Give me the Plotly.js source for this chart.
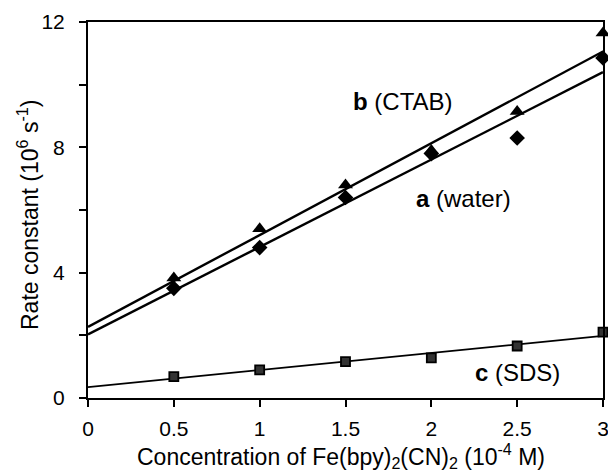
<!DOCTYPE html>
<html>
<head>
<meta charset="utf-8">
<script src="https://cdn.plot.ly/plotly-3.0.1.min.js"></script>
<style>html,body{margin:0;padding:0;background:#fff;}#chart{width:608px;height:470px;}</style>
</head>
<body>
<div id="chart"></div>
<script>
// Data
const conc = [0.5, 1.0, 1.5, 2.0, 2.5, 3.0];
const water = [3.5, 4.8, 6.4, 7.8, 8.3, 10.85];   // a (diamonds)
const ctab  = [3.83, 5.4, 6.8, 7.9, 9.14, 11.65]; // b (triangles)
const sds   = [0.68, 0.9, 1.16, 1.28, 1.66, 2.1]; // c (squares)

// Fitted straight lines (endpoints)
const fitX = [0, 3];
const fitWater = [2.03, 10.4];
const fitCtab = [2.27, 11.06];
const fitSds = [0.35, 1.98];

const xTicks = [0, 0.5, 1, 1.5, 2, 2.5, 3];
const xTickText = ['0', '0.5', '1', '1.5', '2', '2.5', '3'];
const yTicks = [0, 2, 4, 6, 8, 10, 12];
const yTickText = ['0', '', '4', '', '8', '', '12'];

const xTitle = 'Concentration of Fe(bpy)<sub>2</sub>(CN)<sub>2</sub> (10<sup>-4</sup> M)';
const yTitle = 'Rate constant (10<sup>6</sup> s<sup>-1</sup>)';

const font = 'Liberation Sans, Arial, sans-serif';

const traces = [
  {x: fitX, y: fitCtab, mode: 'lines', line: {color: '#000', width: 2.4}, hoverinfo: 'skip'},
  {x: fitX, y: fitWater, mode: 'lines', line: {color: '#000', width: 2.4}, hoverinfo: 'skip'},
  {x: fitX, y: fitSds, mode: 'lines', line: {color: '#000', width: 1.8}, hoverinfo: 'skip'},
  {x: conc, y: ctab, mode: 'markers', cliponaxis: false,
   marker: {symbol: 'triangle-up', size: 13, color: '#000'}},
  {x: conc, y: water, mode: 'markers', cliponaxis: false,
   marker: {symbol: 'diamond', size: 12, color: '#000'}},
  {x: conc, y: sds, mode: 'markers', cliponaxis: false,
   marker: {symbol: 'square', size: 9, color: '#333', line: {color: '#000', width: 1.8}}}
];

const layout = {
  width: 608, height: 470,
  margin: {l: 88, r: 5, t: 22, b: 72},
  paper_bgcolor: '#fff', plot_bgcolor: '#fff',
  showlegend: false,
  font: {family: font, color: '#000', size: 23},
  xaxis: {
    range: [0, 3], tickvals: xTicks, ticktext: xTickText,
    ticks: 'outside', ticklen: 7, tickwidth: 2, tickcolor: '#000',
    showline: true, linewidth: 2, linecolor: '#000', mirror: true,
    showgrid: false, zeroline: false, ticklabeloverflow: 'allow',
    ticklabelstandoff: 4,
    tickfont: {size: 21, family: font}
  },
  yaxis: {
    range: [0, 12], tickvals: yTicks, ticktext: yTickText,
    ticks: 'outside', ticklen: 7, tickwidth: 2, tickcolor: '#000',
    showline: true, linewidth: 2, linecolor: '#000', mirror: true,
    showgrid: false, zeroline: false, ticklabeloverflow: 'allow',
    ticklabelstandoff: 10,
    tickfont: {size: 21, family: font}
  },
  annotations: [
    {x: 0.5, y: 0, xref: 'paper', yref: 'paper', xshift: -5, yshift: -58,
     xanchor: 'center', yanchor: 'middle', text: xTitle, showarrow: false,
     font: {size: 23, family: font}},
    {x: 0, y: 0.5, xref: 'paper', yref: 'paper', xshift: -60, yshift: -5,
     xanchor: 'center', yanchor: 'middle', textangle: -90, text: yTitle, showarrow: false,
     font: {size: 23, family: font}},
    {x: 1.835, y: 9.45, xref: 'x', yref: 'y', text: '<b>b</b> (CTAB)', showarrow: false,
     font: {size: 24, family: font}},
    {x: 2.19, y: 6.38, xref: 'x', yref: 'y', text: '<b>a</b> (water)', showarrow: false,
     font: {size: 24, family: font}},
    {x: 2.50, y: 0.80, xref: 'x', yref: 'y', text: '<b>c</b> (SDS)', showarrow: false,
     font: {size: 24, family: font}}
  ]
};

Plotly.newPlot('chart', traces, layout, {displayModeBar: false, staticPlot: true});
</script>
</body>
</html>
